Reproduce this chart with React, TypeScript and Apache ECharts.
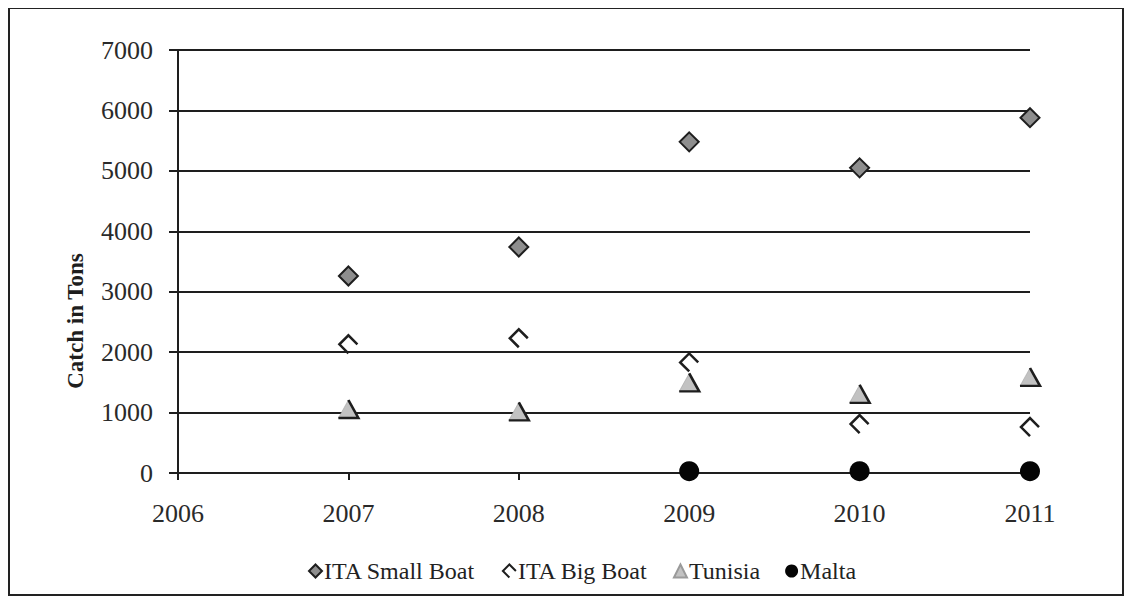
import React, { useEffect, useRef } from "react";
import * as echarts from "echarts";

const years = [2007, 2008, 2009, 2010, 2011];
const itaSmallBoat = [3260, 3740, 5480, 5050, 5880];
const itaBigBoat = [2130, 2230, 1830, 810, 760];
const tunisia = [1060, 1020, 1500, 1310, 1590];
const maltaYears = [2009, 2010, 2011];
const malta = [30, 30, 30];

const seriesNames = ["ITA Small Boat", "ITA Big Boat", "Tunisia", "Malta"];
const yTicks = { min: 0, max: 7000, interval: 1000 };
const xTicks = { min: 2006, max: 2011, interval: 1 };
const yTitle = "Catch in Tons";

const FONT = "Liberation Serif";

function pairs(xs: number[], ys: number[]) {
  return xs.map((x, i) => [x, ys[i]]);
}

export default function App() {
  const ref = useRef<HTMLDivElement>(null);
  useEffect(() => {
    if (!ref.current) return;
    const chart = echarts.init(ref.current, null, { renderer: "svg" });
    const dark = "#1e1e1e";
    chart.setOption({
      animation: false,
      backgroundColor: "#ffffff",
      textStyle: { fontFamily: FONT },
      graphic: [
        {
          type: "rect",
          shape: { x: 1, y: 0, width: 1114, height: 587 },
          style: { fill: "none", stroke: "#222", lineWidth: 2 },
          silent: true,
        },
        {
          type: "text",
          x: 67,
          y: 313,
          rotation: Math.PI / 2,
          style: {
            text: yTitle,
            fill: dark,
            font: "bold 23px Liberation Serif",
            align: "center",
            verticalAlign: "middle",
          },
          silent: true,
        },
      ],
      grid: { left: 170, right: 94, top: 42, bottom: 124 },
      xAxis: {
        type: "value",
        min: xTicks.min,
        max: xTicks.max,
        interval: xTicks.interval,
        splitLine: { show: false },
        axisLine: { show: true, onZero: false, lineStyle: { color: dark, width: 2 } },
        axisTick: { show: true, length: 7, lineStyle: { color: dark, width: 2 } },
        axisLabel: {
          color: "#2a2a2a",
          fontFamily: FONT,
          fontSize: 26,
          margin: 27,
          formatter: (v: number) => String(v),
        },
      },
      yAxis: {
        type: "value",
        min: yTicks.min,
        max: yTicks.max,
        interval: yTicks.interval,
        splitLine: { show: true, lineStyle: { color: dark, width: 2 } },
        axisLine: { show: true, lineStyle: { color: dark, width: 2 } },
        axisTick: { show: true, length: 9, lineStyle: { color: dark, width: 2 } },
        axisLabel: {
          color: "#2a2a2a",
          fontFamily: FONT,
          fontSize: 26,
          margin: 25,
          formatter: (v: number) => String(v),
        },
      },
      legend: {
        data: seriesNames,
        left: 295,
        top: 546,
        itemGap: 25,
        itemWidth: 13,
        itemHeight: 13,
        textStyle: { color: "#222", fontFamily: FONT, fontSize: 24, padding: [0, 0, 0, -3] },
      },
      series: [
        {
          name: "ITA Small Boat",
          type: "scatter",
          symbol: "diamond",
          symbolSize: 19,
          itemStyle: { color: "#8e8e8e", borderColor: dark, borderWidth: 2, opacity: 1 },
          data: pairs(years, itaSmallBoat),
          z: 5,
        },
        {
          name: "ITA Big Boat",
          type: "scatter",
          symbol: "path://M10 5 L5 0 L0 5 L5 10",
          symbolSize: 18,
          itemStyle: { color: "none", borderColor: dark, borderWidth: 2.5, opacity: 1 },
          data: pairs(years, itaBigBoat),
          z: 5,
        },
        {
          name: "Tunisia",
          type: "scatter",
          symbol: "path://M5 0 L10 10 L0 10 Z",
          symbolSize: [20, 18],
          itemStyle: { color: "#c2c2c2", borderColor: "#9a9a9a", borderWidth: 0.5, opacity: 1 },
          data: pairs(years, tunisia),
          z: 5,
        },
        {
          name: "Tunisia edge",
          type: "scatter",
          symbol: "path://M5 0 L10 10 L0 10",
          symbolSize: [20, 18],
          itemStyle: { color: "none", borderColor: dark, borderWidth: 2.5, opacity: 1 },
          data: pairs(years, tunisia),
          z: 6,
          silent: true,
        },
        {
          name: "Malta",
          type: "scatter",
          symbol: "circle",
          symbolSize: 20,
          itemStyle: { color: "#050505", opacity: 1 },
          data: pairs(maltaYears, malta),
          z: 5,
        },
      ],
    });
    return () => chart.dispose();
  }, []);
  return <div ref={ref} style={{ width: 1116, height: 589 }} />;
}
